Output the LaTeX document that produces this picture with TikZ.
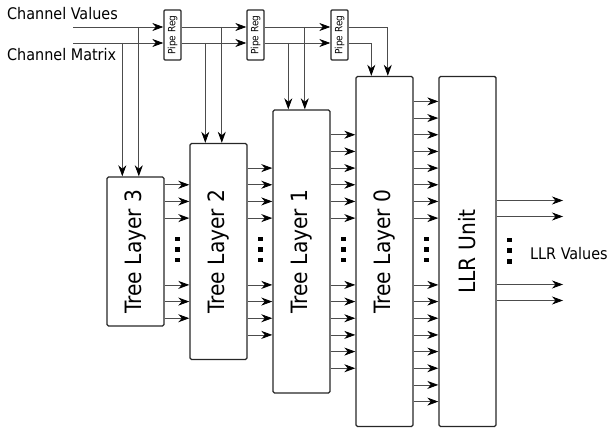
\documentclass[tikz,border=0pt]{standalone}
\usepackage{fontspec}
\usepackage{graphicx}
\setmainfont{DejaVu Sans Condensed}
\usetikzlibrary{arrows.meta,calc}
\begin{document}
\begin{tikzpicture}[x=1pt,y=-1pt,
  blk/.style={draw=black!85, line width=1.4pt, rounded corners=1.5pt, minimum width=57pt, inner sep=0pt, font=\fontsize{22.5}{26}\selectfont},
  preg/.style={draw=black!85, line width=1.3pt, rounded corners=1pt, minimum width=17pt, minimum height=50pt, inner sep=0pt, font=\fontsize{10}{12}\selectfont},
  arr/.style={draw=black!70, line width=0.8pt, -{Stealth[length=11pt,width=8pt,inset=3.5pt,black]}},
  dotsq/.style={fill=black, minimum size=4.5pt, inner sep=0pt},
  lbl/.style={inner sep=0pt, anchor=base west}
]
\useasboundingbox (0,0) rectangle (610,430);
% blocks
\node[blk, minimum height=149pt] (L3) at (135.5,251.5) {\rotatebox{90}{Tree Layer 3}};
\node[blk, minimum height=216pt] (L2) at (218.5,251.5) {\rotatebox{90}{Tree Layer 2}};
\node[blk, minimum height=283pt] (L1) at (301.5,251.5) {\rotatebox{90}{Tree Layer 1}};
\node[blk, minimum height=350pt] (L0) at (384.5,251.5) {\rotatebox{90}{Tree Layer 0}};
\node[blk, minimum height=350pt] (LLR) at (467.5,251.5) {\rotatebox{90}{LLR Unit}};
% pipe regs
\node[preg] (P1) at (172.5,35) {\rotatebox{90}{Pipe Reg}};
\node[preg] (P2) at (255.5,35) {\rotatebox{90}{Pipe Reg}};
\node[preg] (P3) at (339.5,35) {\rotatebox{90}{Pipe Reg}};
% labels
\node[lbl, font=\fontsize{16}{19}\selectfont] (cv) at (7,20) {Channel Values};
\node[lbl, font=\fontsize{16}{19}\selectfont] (cm) at (7,61) {Channel Matrix};
\node[lbl, font=\fontsize{16}{19}\selectfont] (lv) at (530,259) {LLR Values};
% input lines
\coordinate (vin) at (73,27);
\coordinate (min) at (73,43);
\draw[arr] (vin) -- (vin -| P1.west);
\draw[arr] (min) -- (min -| P1.west);
\draw[arr] (P1.east |- vin) -- (P2.west |- vin);
\draw[arr] (P1.east |- min) -- (P2.west |- min);
\draw[arr] (P2.east |- vin) -- (P3.west |- vin);
\draw[arr] (P2.east |- min) -- (P3.west |- min);
% taps
\foreach \B in {L3,L2,L1,L0} {
  \coordinate (\B v) at ([xshift=32.5pt]\B.north west);
  \coordinate (\B m) at ([xshift=16pt]\B.north west);
}
\draw[arr] (L3v |- vin) -- (L3v);
\draw[arr] (L3m |- min) -- (L3m);
\draw[arr] (L2v |- vin) -- (L2v);
\draw[arr] (L2m |- min) -- (L2m);
\draw[arr] (L1v |- vin) -- (L1v);
\draw[arr] (L1m |- min) -- (L1m);
\draw[arr] (P3.east |- vin) -| (L0v);
\draw[arr] (P3.east |- min) -| (L0m);
% inter-block arrows
\foreach \A/\B/\n in {L3/L2/2,L2/L1/3,L1/L0/5,L0/LLR/7} {
  \foreach \k in {0,...,\n} {
    \pgfmathsetmacro\dy{33.4+16.67*\k}
    \draw[arr] ([yshift=\dy pt]\A.east) -- ([yshift=\dy pt]\B.west);
    \draw[arr] ([yshift=-\dy pt]\A.east) -- ([yshift=-\dy pt]\B.west);
  }
  \foreach \j/\y in {a/239,b/249.5,c/260} {
    \node[dotsq] (\A d\j) at ($(\A.east |- 0,\y)+(13,0)$) {};
  }
}
% outputs
\coordinate (oe) at (563,251.5);
\foreach \d in {51,35,-33,-49} {
  \draw[arr] ([yshift=\d pt]LLR.east) -- ([yshift=\d pt]oe);
}
\foreach \j/\y in {a/240,b/250.7,c/261.4} {
  \node[dotsq] (LLRd\j) at ($(LLR.east |- 0,\y)+(13,0)$) {};
}
\end{tikzpicture}
\end{document}
